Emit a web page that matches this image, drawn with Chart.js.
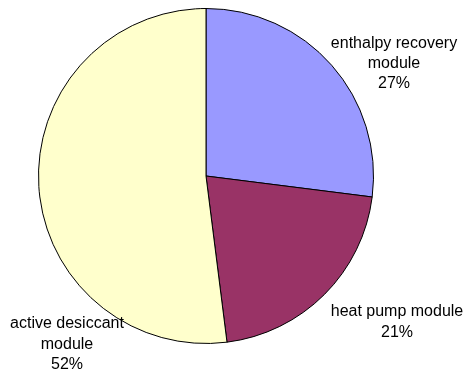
<!DOCTYPE html>
<html>
<head>
<meta charset="utf-8">
<script src="https://cdn.jsdelivr.net/npm/chart.js@4/dist/chart.umd.min.js"></script>
<style>
    html, body { margin: 0; padding: 0; background: #fff; }
    #wrap { width: 467px; height: 377px; position: relative; }
</style>
</head>
<body>
<div id="wrap"><canvas id="pieChart"></canvas></div>
<script>
const categories = ['enthalpy recovery module', 'heat pump module', 'active desiccant module'];
const shares = [27, 21, 52];
const sliceColors = ['#9999ff', '#993366', '#ffffcc'];

// label lines per slice, plus where each block sits (centre x, first line y, line step)
const labelLines = [
    ['enthalpy recovery', 'module', shares[0] + '%'],
    ['heat pump module', shares[1] + '%'],
    ['active desiccant', 'module', shares[2] + '%']
];
const labelSpots = [
    { x: 394, y: 44, step: 20 },
    { x: 397, y: 312, step: 21 },
    { x: 67, y: 324, step: 20.5 }
];

const sliceLabels = {
    id: 'sliceLabels',
    afterDatasetsDraw(chart) {
        const ctx = chart.ctx;
        ctx.save();
        ctx.font = '16px "Liberation Sans", Arial, sans-serif';
        ctx.fillStyle = '#000';
        ctx.textAlign = 'center';
        ctx.textBaseline = 'middle';
        labelLines.forEach((lines, i) => {
            const spot = labelSpots[i];
            lines.forEach((line, j) => ctx.fillText(line, spot.x, spot.y + j * spot.step));
        });
        ctx.restore();
    }
};

new Chart(document.getElementById('pieChart').getContext('2d'), {
    type: 'pie',
    data: {
        labels: categories,
        datasets: [{
            data: shares,
            backgroundColor: sliceColors,
            borderColor: '#000',
            borderWidth: 1
        }]
    },
    options: {
        responsive: true,
        maintainAspectRatio: false,
        animation: false,
        layout: { padding: { left: 38, right: 93, top: 8, bottom: 33 } },
        plugins: {
            legend: { display: false },
            tooltip: { enabled: false }
        }
    },
    plugins: [sliceLabels]
});
</script>
</body>
</html>
